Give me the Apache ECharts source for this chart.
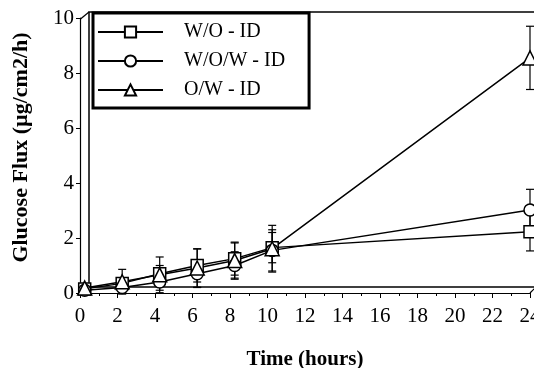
<!DOCTYPE html>
<html><head><meta charset="utf-8">
<script src="https://cdn.jsdelivr.net/npm/echarts@6/dist/echarts.min.js"></script>
<style>html,body{margin:0;padding:0;background:#fff}#c{width:534px;height:368px}</style>
</head><body><div id="c"></div>
<script>
const times = [0.25, 2.25, 4.25, 6.25, 8.25, 10.25, 24];
const names = ['W/O - ID', 'W/O/W - ID', 'O/W - ID'];
const woValues = [0.15, 0.35, 0.7, 1.0, 1.25, 1.65, 2.23];
const wowValues = [0.1, 0.2, 0.4, 0.7, 1.0, 1.55, 3.02];
const owValues = [0.18, 0.41, 0.66, 0.91, 1.18, 1.61, 8.55];
const woErr = [0.05, 0.1, 0.3, 0.6, 0.6, 0.55, 0.7];
const wowErr = [0.05, 0.15, 0.3, 0.5, 0.5, 0.75, 0.75];
const owErr = [0.05, 0.45, 0.65, 0.7, 0.64, 0.85, 1.15];
const symbols = ['rect', 'circle', 'triangle'];
const xTicks = [0,2,4,6,8,10,12,14,16,18,20,22,24];
const yTicks = [0,2,4,6,8,10];

const font = 'Liberation Serif';
const allVals = [woValues, wowValues, owValues];
const allErr = [woErr, wowErr, owErr];

const series = [];
allVals.forEach((vals, i) => {
  series.push({
    type: 'custom', xAxisIndex: 0, yAxisIndex: 0, z: 3, silent: true,
    data: times.map((t, k) => [t, vals[k] - allErr[i][k], vals[k] + allErr[i][k]]),
    renderItem: function (params, api) {
      const lo = api.coord([api.value(0), api.value(1)]);
      const hi = api.coord([api.value(0), api.value(2)]);
      const w = 4;
      const st = { stroke: '#000', lineWidth: 1.2 };
      return { type: 'group', children: [
        { type: 'line', shape: { x1: lo[0], y1: lo[1], x2: hi[0], y2: hi[1] }, style: st },
        { type: 'line', shape: { x1: hi[0]-w, y1: hi[1], x2: hi[0]+w, y2: hi[1] }, style: st },
        { type: 'line', shape: { x1: lo[0]-w, y1: lo[1], x2: lo[0]+w, y2: lo[1] }, style: st }
      ]};
    }
  });
});
allVals.forEach((vals, i) => {
  series.push({
    name: names[i], type: 'line', xAxisIndex: 0, yAxisIndex: 0, z: 4,
    data: times.map((t, k) => [t, vals[k]]),
    symbol: symbols[i], symbolSize: i === 2 ? 14 : 12, showAllSymbol: true,
    lineStyle: { color: '#000', width: 1.5 },
    itemStyle: { color: '#fff', borderColor: '#000', borderWidth: 1.5 },
    emphasis: { disabled: true }, animation: false
  });
});

const chart = echarts.init(document.getElementById('c'), null, { renderer: 'canvas' });
chart.setOption({
  animation: false,
  backgroundColor: '#fff',
  textStyle: { fontFamily: font },
  grid: [
    { left: 80, right: 4, top: 18, bottom: 75, show: false, containLabel: false, outerBoundsMode: 'none' },
    { left: 89, right: -4, top: 12, bottom: 81, show: true, borderColor: '#000', borderWidth: 1.5, backgroundColor: 'transparent', z: 0, containLabel: false, outerBoundsMode: 'none' }
  ],
  legend: {
    data: names, orient: 'vertical', left: 93, top: 13,
    padding: [9, 24, 8, 4], itemGap: 9,
    itemWidth: 65, itemHeight: 14,
    borderColor: '#000', borderWidth: 3, backgroundColor: '#fff',
    textStyle: { fontFamily: font, fontSize: 20, lineHeight: 20, color: '#000', padding: [0, 0, 0, 16] },
    z: 10
  },
  xAxis: [
    { type: 'value', gridIndex: 0, min: 0, max: 24, interval: 2,
      name: 'Time (hours)', nameLocation: 'middle', nameGap: 56,
      nameTextStyle: { fontFamily: font, fontSize: 21, fontWeight: 'bold', color: '#000' },
      axisLine: { lineStyle: { color: '#000', width: 1.2 } },
      axisTick: { inside: false, length: 5, lineStyle: { color: '#000' } },
      minorTick: { show: true, splitNumber: 2, length: 3, lineStyle: { color: '#000' } },
      splitLine: { show: false },
      axisLabel: { fontFamily: font, fontSize: 21, color: '#000', margin: 13 } },
    { type: 'value', gridIndex: 1, min: 0, max: 1, show: false }
  ],
  yAxis: [
    { type: 'value', gridIndex: 0, min: 0, max: 10, interval: 2,
      name: 'Glucose Flux (µg/cm2/h)', nameLocation: 'middle', nameGap: 48, nameRotate: 90,
      nameTextStyle: { fontFamily: font, fontSize: 22, fontWeight: 'bold', color: '#000', padding: [0, 0, 0, 16] },
      axisLine: { show: true, lineStyle: { color: '#000', width: 1.2 } },
      axisTick: { show: true, inside: false, length: 4, lineStyle: { color: '#000' } },
      splitLine: { show: false },
      axisLabel: { fontFamily: font, fontSize: 21, color: '#000', margin: 6 } },
    { type: 'value', gridIndex: 1, min: 0, max: 1, show: false }
  ],
  graphic: [
    { type: 'line', shape: { x1: 80.5, y1: 19, x2: 89, y2: 12 }, style: { stroke: '#000', lineWidth: 1.2 }, silent: true },
    { type: 'line', shape: { x1: 80.5, y1: 293, x2: 89, y2: 287 }, style: { stroke: '#000', lineWidth: 1.2 }, silent: true },
    { type: 'line', shape: { x1: 530, y1: 293, x2: 536, y2: 287 }, style: { stroke: '#000', lineWidth: 1.2 }, silent: true }
  ],
  series: series
});
</script></body></html>
